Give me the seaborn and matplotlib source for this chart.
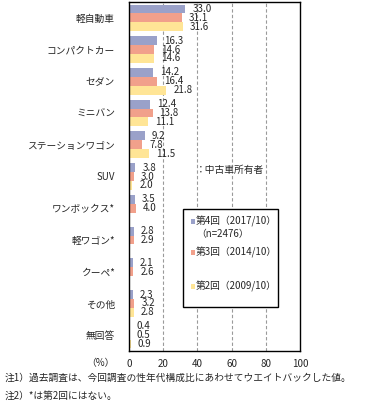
import numpy as np
import pandas as pd
import seaborn as sns
import matplotlib
matplotlib.use("Agg")
import matplotlib.pyplot as plt
from matplotlib.patches import Rectangle
from matplotlib.ticker import FixedLocator

categories = ["軽自動車", "コンパクトカー", "セダン", "ミニバン", "ステーションワゴン",
              "SUV", "ワンボックス*", "軽ワゴン*", "クーペ*", "その他", "無回答"]
series = ["第4回", "第3回", "第2回"]
v4 = [33.0, 16.3, 14.2, 12.4, 9.2, 3.8, 3.5, 2.8, 2.1, 2.3, 0.4]
v3 = [31.1, 14.6, 16.4, 13.8, 7.8, 3.0, 4.0, 2.9, 2.6, 3.2, 0.5]
v2 = [31.6, 14.6, 21.8, 11.1, 11.5, 2.0, np.nan, np.nan, np.nan, 2.8, 0.9]
legend_labels = ["第4回（2017/10）", "第3回（2014/10）", "第2回（2009/10）"]
xticks = [0, 20, 40, 60, 80, 100]
colors = ["#9aa1c9", "#f1a08b", "#ffe596"]

rows = []
for s, vals in zip(series, [v4, v3, v2]):
    for c, v in zip(categories, vals):
        rows.append({"cat": c, "series": s, "value": v})
df = pd.DataFrame(rows)

sns.set_style("white")
plt.rcParams["font.family"] = ["Noto Sans CJK JP", "DejaVu Sans"]

W, H = 365, 409
fig = plt.figure(figsize=(W / 100, H / 100), dpi=100)
ax = fig.add_axes([129 / W, 1 - 351 / H, 171 / W, 349 / H])

sns.barplot(data=df, y="cat", x="value", hue="series", order=categories,
            hue_order=series, palette=colors, orient="h", errorbar=None,
            width=0.84, ax=ax, legend=False, saturation=1, linewidth=0)

for cont in ax.containers:
    labels = [f"{b.get_width():.1f}" for b in cont]
    ax.bar_label(cont, labels=labels, padding=5, fontsize=7)

ax.set_xlim(0, 100)
ax.set_ylim(len(categories) - 0.5, -0.5)
ax.set_xticks(xticks)
ax.set_xticklabels([str(t) for t in xticks], fontsize=7)
ax.tick_params(axis="x", length=0, pad=6)
ax.tick_params(axis="y", which="major", length=0, labelsize=7, pad=10)
ax.yaxis.set_minor_locator(FixedLocator(np.arange(-0.5, len(categories), 1.0)))
ax.tick_params(axis="y", which="minor", direction="in", length=3, width=0.8, color="black")
ax.set_xlabel("")
ax.set_ylabel("")
for t in [20, 40, 60, 80]:
    ax.axvline(t, color="#9a9a9a", lw=0.8, ls=(0, (3, 2)), zorder=0)
for sp in ax.spines.values():
    sp.set_color("black")
    sp.set_linewidth(1)
    sp.set_visible(True)

def fx(px):
    return px / W

def fy(py):
    return 1 - py / H

fig.text(fx(100), fy(363), "（%）", fontsize=7, ha="center", va="center")
fig.text(fx(196), fy(170), "：中古車所有者", fontsize=7, ha="left", va="center")

# legend box
fig.patches.append(Rectangle((fx(183), fy(307)), fx(278) - fx(183), fy(209) - fy(307),
                             transform=fig.transFigure, fill=True, facecolor="white",
                             edgecolor="black", lw=1, zorder=5))
leg_y = [221, 252, 286]
for yy, lab, col in zip(leg_y, legend_labels, colors):
    fig.patches.append(Rectangle((fx(190.5), fy(yy + 2.5)), fx(5), 5 / H,
                                 transform=fig.transFigure, facecolor=col,
                                 edgecolor="none", zorder=6))
    fig.text(fx(196), fy(yy), lab, fontsize=7, ha="left", va="center", zorder=7)
fig.text(fx(196), fy(234), "（n=2476）", fontsize=7, ha="left", va="center", zorder=7)

fig.text(fx(5), fy(378), "注1）過去調査は、今回調査の性年代構成比にあわせてウエイトバックした値。",
         fontsize=7, ha="left", va="center")
fig.text(fx(5), fy(396), "注2）*は第2回にはない。", fontsize=7, ha="left", va="center")

fig.savefig("out.png", dpi=100)
